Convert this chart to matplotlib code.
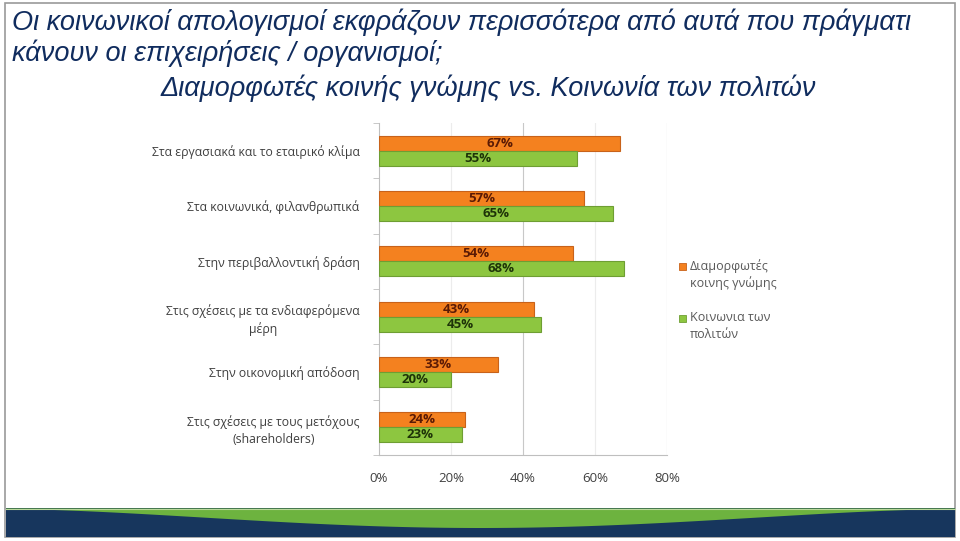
import numpy as np
import matplotlib
matplotlib.use("Agg")
import matplotlib.pyplot as plt
from matplotlib.patches import Rectangle, Polygon

categories = [
    "Στα εργασιακά και το εταιρικό κλίμα",
    "Στα κοινωνικά, φιλανθρωπικά",
    "Στην περιβαλλοντική δράση",
    "Στις σχέσεις με τα ενδιαφερόμενα\nμέρη",
    "Στην οικονομική απόδοση",
    "Στις σχέσεις με τους μετόχους\n(shareholders)",
]
opinion_makers = [67, 57, 54, 43, 33, 24]
civil_society = [55, 65, 68, 45, 20, 23]
series_names = ["Διαμορφωτές\nκοινης γνώμης", "Κοινωνια των\nπολιτών"]
xticks = [0, 20, 40, 60, 80]
xtick_labels = ["0%", "20%", "40%", "60%", "80%"]
title_lines = [
    "Οι κοινωνικοί απολογισμοί εκφράζουν περισσότερα από αυτά που πράγματι",
    "κάνουν οι επιχειρήσεις / οργανισμοί;",
    "Διαμορφωτές κοινής γνώμης vs. Κοινωνία των πολιτών",
]

W, H = 960, 541
fig = plt.figure(figsize=(W / 100, H / 100), dpi=100)
fig.patch.set_facecolor("white")

# background / decoration axes in pixel coordinates
bg = fig.add_axes([0, 0, 1, 1], zorder=0)
bg.set_xlim(0, W)
bg.set_ylim(H, 0)
bg.axis("off")
bg.add_patch(Rectangle((5, 3), 950, 534, fill=False, edgecolor="#9a9a9a", lw=1.2))
bg.add_patch(Rectangle((6, 508), 949, 29, facecolor="#17365D", edgecolor="none"))
xs = np.linspace(6, 955, 200)
t = (xs - 6) / 949
lower = 509 + 19 * np.sin(np.pi * t) ** 1.6
green_poly = np.vstack([np.column_stack([xs, np.full_like(xs, 508.5)]),
                        np.column_stack([xs[::-1], lower[::-1]])])
bg.add_patch(Polygon(green_poly, closed=True, facecolor="#6DB33F", edgecolor="none"))
bg.plot(xs, np.full_like(xs, 508.5), color="#b8d99a", lw=0.8)

title_color = "#102C5E"
tfont = dict(family=["Liberation Sans", "DejaVu Sans"], style="italic", fontsize=19.5, color=title_color)
bg.text(12, 30, title_lines[0], ha="left", va="baseline", **tfont)
bg.text(12, 61, title_lines[1], ha="left", va="baseline", **tfont)
bg.text(488, 96, title_lines[2], ha="center", va="baseline", **tfont)

# chart axes
x0, x1 = 379, 667
y_top, y_bot = 123, 455
ax = fig.add_axes([x0 / W, (H - y_bot) / H, (x1 - x0) / W, (y_bot - y_top) / H], zorder=1)
ax.set_facecolor("none")

n = len(categories)
y = np.arange(n)
h = 0.27
orange = "#F4811F"
green = "#8DC640"
ob = ax.barh(y - h / 2, opinion_makers, height=h, color=orange, edgecolor="#C8621A", lw=0.8, zorder=3)
gb = ax.barh(y + h / 2, civil_society, height=h, color=green, edgecolor="#6E9E33", lw=0.8, zorder=3)

lab_font = dict(family=["Open Sans", "DejaVu Sans"], fontsize=9.5, fontweight="bold")
for rect, v in zip(ob, opinion_makers):
    ax.text(v / 2, rect.get_y() + rect.get_height() / 2, f"{v}%", ha="center", va="center",
            color="#5A1A05", zorder=4, **lab_font)
for rect, v in zip(gb, civil_society):
    ax.text(v / 2, rect.get_y() + rect.get_height() / 2, f"{v}%", ha="center", va="center",
            color="#1E3308", zorder=4, **lab_font)

ax.set_xlim(0, 80)
ax.set_ylim(n - 0.5, -0.5)
ax.set_xticks(xticks)
ax.set_xticklabels(xtick_labels, family=["Open Sans", "DejaVu Sans"], fontsize=9.5, color="#404040")
ax.set_yticks(y)
ax.set_yticklabels(categories, family=["Open Sans", "DejaVu Sans"], fontsize=8.8, color="#404040",
                   linespacing=1.35, multialignment="center")
ax.tick_params(axis="y", length=0, pad=14)
ax.set_yticks(np.arange(n + 1) - 0.5, minor=True)
ax.tick_params(axis="y", which="minor", length=4, color="#bfbfbf")
ax.tick_params(axis="x", length=0, pad=12)
for gx in xticks[1:]:
    ax.axvline(gx, color="#c8c8c8" if gx in (40, 80) else "#ececec", lw=0.8, zorder=0)
for s in ["top", "right"]:
    ax.spines[s].set_visible(False)
ax.spines["left"].set_color("#bfbfbf")
ax.spines["bottom"].set_color("#bfbfbf")

# legend
lfont = dict(family=["Open Sans", "DejaVu Sans"], fontsize=9, color="#595959", linespacing=1.35)
for (ly, col, ec, name) in [(267, orange, "#C8621A", series_names[0]), (319, green, "#6E9E33", series_names[1])]:
    bg.add_patch(Rectangle((679, ly - 4), 7, 7, facecolor=col, edgecolor=ec, lw=0.6))
    bg.text(690, ly - 8, name, ha="left", va="top", **lfont)

fig.savefig("out.png", dpi=100)
